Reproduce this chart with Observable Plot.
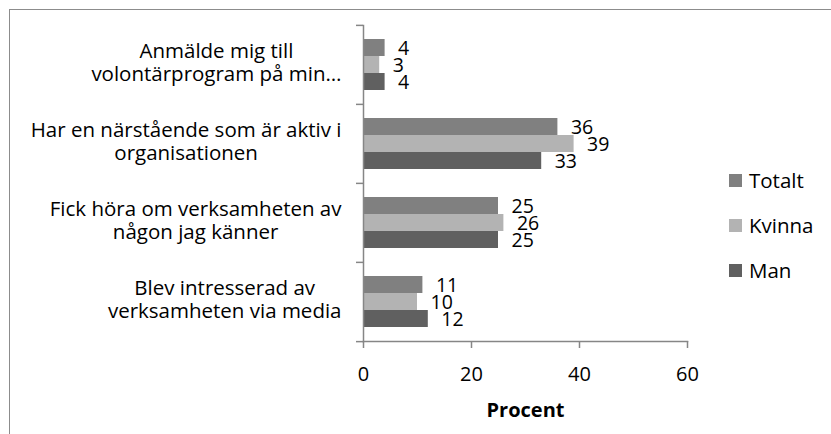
<!DOCTYPE html>
<html><head><meta charset="utf-8">
<script src="https://cdn.jsdelivr.net/npm/d3@7"></script>
<script src="https://cdn.jsdelivr.net/npm/@observablehq/plot@0.6"></script>
<style>
html,body{margin:0;padding:0;background:#fff;overflow:hidden;}
#wrap{position:relative;width:831px;height:434px;overflow:hidden;}
#border{position:absolute;left:9px;top:9px;width:900px;height:600px;border:1px solid #8c8c8c;box-sizing:border-box;pointer-events:none;}
#chart{position:absolute;left:0;top:0;}
.lg{position:absolute;left:729px;height:24px;display:flex;align-items:center;font-family:"Open Sans";font-size:20.5px;color:#000;}
.lg span.sw{display:inline-block;width:13px;height:13px;margin-right:7px;}
</style></head><body>
<div id="wrap"><div id="border"></div><div id="chart"></div><div id="legend"></div></div>
<script>
const categories = [
  "Anmälde mig till\nvolontärprogram på min…",
  "Har en närstående som är aktiv i\norganisationen",
  "Fick höra om verksamheten av\nnågon jag känner",
  "Blev intresserad av\nverksamheten via media"
];
const series = ["Totalt", "Kvinna", "Man"];
const totalt = [4, 36, 25, 11];
const kvinna = [3, 39, 26, 10];
const man = [4, 33, 25, 12];
const colors = ["#808080", "#b3b3b3", "#606060"];
const xTicks = [0, 20, 40, 60];
const xLabel = "Procent";

const values = {Totalt: totalt, Kvinna: kvinna, Man: man};
const data = categories.flatMap((c, i) => series.map(s => ({category: c, series: s, value: values[s][i]})));

const W = 831, H = 434, mL = 363, mR = 144, mT = 24, mB = 93;
const half = (H - mT - mB) / categories.length / 2;
const axisColor = "#868686";
const FONT = "Open Sans";

const plot = Plot.plot({
  width: W, height: H,
  marginLeft: mL, marginRight: mR, marginTop: mT, marginBottom: mB,
  style: {fontFamily: FONT, fontSize: "19px", color: "#000", background: "transparent", overflow: "visible"},
  x: {domain: [0, 60]},
  y: {domain: series, paddingInner: 0, paddingOuter: 0.79, axis: null},
  fy: {domain: categories, padding: 0},
  color: {domain: series, range: colors},
  marks: [
    Plot.barX(data, {x: "value", y: "series", fy: "category", fill: "series"}),
    Plot.text(data, {x: "value", y: "series", fy: "category", text: d => String(d.value), textAnchor: "start", dx: 13, dy: 1, fontSize: 19.5, fill: "#000"}),
    Plot.frame({anchor: "left", facet: "super", stroke: axisColor, strokeWidth: 1.5}),
    Plot.frame({anchor: "bottom", facet: "super", stroke: axisColor, strokeWidth: 1.5}),
    Plot.axisX({ticks: xTicks, tickSize: 7, tickPadding: 18, fontSize: 20, stroke: axisColor, strokeWidth: 1.5, fill: "#000",
      label: xLabel, labelAnchor: "center", labelArrow: "none", labelOffset: 75}),
    Plot.axisFy({anchor: "left", tickSize: 0, tickPadding: 22, fontSize: 20.5, textAnchor: "end", lineHeight: 1.14, dy: -3, label: null, fill: "#000"}),
    Plot.axisFy({anchor: "left", tickSize: 7, dy: -half, fill: "none", stroke: axisColor, strokeWidth: 1.5, label: null}),
    Plot.axisFy({anchor: "left", ticks: [categories[categories.length - 1]], tickSize: 7, dy: half, fill: "none", stroke: axisColor, strokeWidth: 1.5, label: null})
  ]
});
document.getElementById("chart").appendChild(plot);

// bold axis label
d3.select(plot).selectAll('g[aria-label="x-axis label"] text').attr("font-weight", "bold").attr("font-size", 20);

// center each line of the multi-line category labels within its block
d3.select(plot).selectAll('g[aria-label="fy-axis tick label"] text').each(function () {
  const tspans = Array.from(this.querySelectorAll("tspan"));
  if (!tspans.length) return;
  const w = Math.max(...tspans.map(t => t.getComputedTextLength()));
  this.setAttribute("text-anchor", "middle");
  tspans.forEach(t => t.setAttribute("x", -w / 2));
});

// legend
const lg = document.getElementById("legend");
const legendCenters = [180, 225, 270];
series.forEach((s, i) => {
  const d = document.createElement("div");
  d.className = "lg";
  d.style.top = (legendCenters[i] - 12) + "px";
  d.innerHTML = `<span class="sw" style="background:${colors[i]}"></span>${s}`;
  lg.appendChild(d);
});
</script>
</body></html>
